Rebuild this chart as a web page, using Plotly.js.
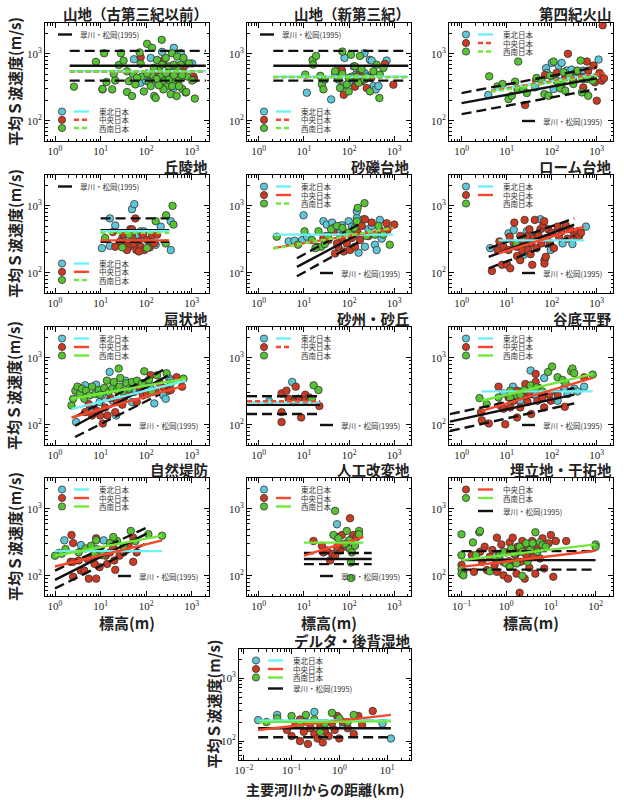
<!DOCTYPE html>
<html><head><meta charset="utf-8">
<script src="https://cdn.plot.ly/plotly-3.0.1.min.js"></script>
<style>html,body{margin:0;padding:0;background:#fff;}#chart{width:624px;height:800px;}</style>
</head><body><div id="chart"></div>
<script>
// ---------------- DATA (x: elevation m / distance km, y: mean S-wave velocity m/s) ----------------
const p1_T = [[54,830],[407,1230],[224,1070],[575,1020],[1020,720],[76,370],[126,370],[400,310],[126,870],[617,575],[98,400],[288,490]];
const p1_C = [[11,295],[76,890],[174,525],[245,810],[316,525],[676,650],[1100,457],[1120,417]];
const p1_W = [[2.6,324],[7.9,760],[12,1020],[11,300],[13.5,380],[18,295],[19.5,500],[21,400],[25,680],[28,1020],[32,790],[38,270],[42,390],[51,500],[58,350],[72,1050],[76,710],[81,460],[89,275],[105,1410],[115,380],[135,1230],[150,235],[162,220],[220,1620],[174,810],[190,575],[210,460],[245,390],[270,870],[290,330],[316,650],[350,460],[370,1020],[410,360],[450,550],[480,910],[525,410],[575,690],[620,300],[660,870],[740,265],[790,460],[870,720],[1020,400],[1170,215],[760,270],[132,490],[148,620],[170,420],[224,690],[275,510],[316,410],[372,330],[407,480],[480,620],[525,330],[617,480],[407,690],[240,295],[190,340],[105,510],[126,330],[38,550],[49,235],[63,440],[347,250],[468,235]];
const p1_ref = [[2.1,665],[2040,665]], p1_refU = [[2.1,1108],[2040,1108]], p1_refL = [[2.1,399],[2040,399]];
const p1_fitT = [[2.1,550],[2040,550]], p1_fitC = [[2.1,546],[2040,546]], p1_fitW = [[2.1,548],[2040,548]];

const p2_T = [[11.6,263],[40,209],[49,490],[56,550],[69,324],[79,870],[126,650],[141,490],[174,550],[219,1020],[224,513],[269,457],[288,813],[316,794],[347,331],[389,295],[447,331],[676,794],[148,389],[100,370]];
const p2_C = [[69,575],[76,245],[135,324],[166,490],[245,309],[309,437],[617,708],[955,347],[190,389]];
const p2_W = [[10.7,490],[15.5,810],[18.6,930],[16,690],[23,470],[25,350],[27,295],[29,415],[49,550],[58,415],[63,310],[71,1080],[71,500],[89,350],[98,275],[110,970],[115,457],[135,650],[148,457],[162,370],[174,930],[190,590],[219,415],[245,457],[290,275],[347,550],[407,690],[479,490],[468,219],[575,617],[98,437]];
const p2_ref = [[2.1,665],[2040,665]], p2_refU = [[2.1,1108],[2040,1108]], p2_refL = [[2.1,399],[2040,399]];
const p2_fitT = [[2.1,455],[2040,455]], p2_fitC = [[2.1,450],[2040,450]], p2_fitW = [[2.1,452],[2040,452]];

const p3_T = [[3.9,243],[75,610],[78,519],[100,733],[141,668],[166,733],[214,562],[275,582],[363,501],[501,562],[1096,822],[43,316],[166,316],[110,298],[501,422]];
const p3_C = [[25.7,172],[45,398],[71,484],[105,447],[129,519],[141,355],[229,1000],[302,398],[363,543],[468,447],[603,767],[646,562],[708,447],[851,668],[912,376],[1000,200],[1148,519],[1288,398],[1445,432],[1349,2660],[501,316],[200,447]];
const p3_W = [[4.1,462],[18,767],[6.2,327],[8.1,355],[11,211],[13,237],[15.4,385],[17.4,299],[23,305],[28,260],[46,437],[60,398],[69,251],[85,237],[110,767],[129,398],[155,305],[182,531],[200,282],[245,473],[302,355],[372,562],[437,794],[468,266],[603,422],[646,237],[813,398],[166,385],[91,473]];
const p3_ref = [[1,184],[1000,432]], p3_refU = [[1,260],[1000,631]], p3_refL = [[1,126],[1000,298]];
const p3_fitT = [[4.5,285],[1100,500]], p3_fitC = [[4.5,280],[1500,520]], p3_fitW = [[4.5,272],[1000,470]];

const p4_T = [[10.7,234],[16,253],[16,650],[21,510],[49,890],[55,1060],[63,350],[76,417],[162,262],[209,490],[347,219],[347,590],[30,331],[89,417]];
const p4_C = [[18.6,407],[21,245],[27,295],[32,372],[37,282],[42,245],[45,447],[49,355],[54,269],[58,650],[61,219],[69,295],[76,245],[85,372],[91,219],[105,309],[120,240],[135,363],[151,275],[174,372],[38,219],[49,447],[69,209]];
const p4_W = [[12.6,331],[30,240],[42,372],[105,234],[162,590],[269,275],[275,724],[398,525],[380,1000]];
const p4_ref = [[10,433],[320,433]], p4_refU = [[10,650],[320,650]], p4_refL = [[10,290],[320,290]];
const p4_fitT = [[10,420],[320,420]], p4_fitC = [[10,305],[320,305]], p4_fitW = [[10,395],[320,395]];

const p5_T = [[4.6,295],[6.2,302],[9.8,724],[9.1,309],[11.7,347],[27,590],[32,525],[42,562],[45,468],[58,447],[69,513],[98,590],[115,490],[148,660],[148,832],[162,200],[209,631],[224,245],[269,447],[316,501],[372,263],[407,219],[479,617],[525,324],[30,355],[162,372]];
const p5_C = [[35,309],[45,417],[49,195],[58,245],[69,331],[76,209],[89,275],[105,219],[115,331],[135,245],[148,417],[174,309],[190,501],[224,631],[269,355],[316,562],[479,437],[676,550],[708,437],[1000,525],[19.5,245],[27,331],[54,275]];
const p5_W = [[2.5,347],[7.4,263],[10.3,417],[15,309],[21,417],[24,245],[34,355],[40,447],[54,501],[71,468],[98,398],[132,468],[148,590],[219,1096],[155,933],[245,355],[372,372],[447,501],[575,372],[794,263],[29,269],[18,234]];
const p5_ref = [[7,123],[190,400]], p5_refU = [[7,165],[190,558]], p5_refL = [[7,89],[190,305]];
const p5_fitT = [[2.1,372],[950,372]], p5_fitC = [[2.1,234],[950,457]], p5_fitW = [[2.1,230],[950,470]];

const p6_T = [[4.3,234],[11,389],[14.4,437],[20,166],[28,417],[56,631],[95,219],[174,275],[288,269],[347,347],[575,490],[24,186]];
const p6_C = [[4.7,107],[6.3,219],[6.9,295],[7.9,132],[8.5,245],[10.2,132],[11,219],[11.7,347],[12,117],[14.4,275],[14.8,562],[16.5,245],[17,178],[20,355],[22,219],[24,275],[25,617],[29,355],[30,219],[32,447],[35,275],[37,132],[40,331],[42,617],[46,234],[49,372],[56,447],[59,275],[65,513],[68,590],[69,155],[69,138],[74,174],[79,331],[83,447],[91,275],[102,398],[112,234],[135,490],[145,347],[166,417],[204,513],[224,324],[257,447],[316,372],[372,417],[407,355],[447,398],[34,190],[51,355],[20,155]];
const p6_W = [[16.5,269]];
const p6_ref = [[4,173],[316,525]], p6_refU = [[4,233],[316,650]], p6_refL = [[4,117],[316,361]];
const p6_fitT = [[6.6,305],[530,305]], p6_fitC = [[6.6,196],[530,489]];

const p7_T = [[2.9,110],[4.6,389],[5.9,174],[8,398],[9.5,219],[10.7,275],[15.8,617],[18.6,229],[22,138],[35,457],[49,219],[54,309],[76,324],[126,347],[151,209],[240,275],[269,245],[316,501],[347,457],[89,389]];
const p7_C = [[4.6,155],[5.5,204],[6.5,138],[8.3,162],[9.1,288],[9.8,138],[11.2,105],[12.6,182],[14.2,138],[16.4,251],[21,155],[23,219],[30,200],[33,257],[42,295],[49,389],[62,219],[72,363],[85,275],[105,288],[126,550],[162,324],[200,417],[245,355],[316,324],[347,331],[468,513],[617,372]];
const p7_W = [[2.3,195],[2.5,245],[2.8,324],[3.1,372],[3.5,295],[3.9,347],[4.4,245],[4.8,324],[5.7,275],[6.5,372],[7.6,288],[9.1,331],[9.8,282],[12,355],[13.8,457],[15,309],[18,355],[19.5,437],[23,331],[26,372],[31,316],[37,417],[42,347],[49,437],[63,457],[81,417],[91,631],[115,468],[135,309],[174,550],[282,589],[347,417],[660,490],[25,692],[27,501]];
const p7_ref = [[2.75,97],[300,542]], p7_refU = [[2.75,132],[270,690]], p7_refL = [[2.75,66],[200,286]];
const p7_fitT = [[2.3,172],[740,457]], p7_fitC = [[2.3,129],[740,389]], p7_fitW = [[2.3,245],[740,490]];

const p8_T = [[1.7,224],[5.5,437],[6.5,229]];
const p8_C = [[3.2,295],[3.2,155],[3.2,110],[4.1,324],[4.6,245],[6.6,372],[7.6,245],[8.7,129],[10.7,282],[10.7,234],[13.2,257],[22,191],[5.9,219]];
const p8_W = [[16.4,389],[21,331],[15,240]];
const p8_ref = [[0.55,199],[23,199]], p8_refU = [[0.55,268],[23,268]], p8_refL = [[0.55,145],[20,145]];
const p8_fitT = [[0.55,218],[23,218]], p8_fitC = [[0.55,225],[23,225]];

const p9_T = [[8.5,295],[13.8,372],[34,646],[44,275],[68,501],[135,229],[190,355],[224,288],[316,347],[372,316],[525,372],[20,229]];
const p9_C = [[2.7,155],[2.8,117],[4,105],[6.6,372],[7.2,195],[8.5,174],[9.3,102],[11,257],[12,182],[14.4,229],[17,129],[20,182],[24,275],[26,407],[29,219],[31,309],[35,145],[44,437],[48,229],[52,355],[62,257],[68,182],[87,282],[95,229],[135,282],[195,186],[525,513],[44,575],[17,324]];
const p9_W = [[2.5,251],[3.6,204],[6.6,257],[12,324],[17,275],[24,331],[34,389],[46,363],[62,316],[83,617],[102,741],[135,513],[174,468],[204,417],[269,631],[288,692],[316,589],[813,562],[12,251],[20,282]];
const p9_ref = [[0.55,112],[316,282]], p9_refU = [[0.55,145],[316,355]], p9_refL = [[0.55,81],[316,209]];
const p9_fitT = [[2.8,316],[813,316]], p9_fitC = [[2.8,162],[813,501]], p9_fitW = [[2.8,229],[813,575]];

const p10_T = [[1.2,219],[1.6,339],[3.9,257],[8,251],[11.7,339],[17,309],[3.7,288]];
const p10_C = [[2.3,407],[2.5,309],[2.2,162],[2.5,162],[2.5,97],[3.3,170],[3.7,120],[4.4,120],[5.5,91],[6.8,200],[8,363],[8,91],[9.5,135],[13,200],[14,151],[16,224],[19,269],[20,170],[21,123],[26,200],[32,224],[41,282],[52,372],[52,162],[62,224],[7.4,151],[5.2,178]];
const p10_W = [[1,200],[1.4,214],[1.7,251],[3.3,224],[4.7,257],[6.2,282],[7.4,214],[8,339],[9.5,245],[11,204],[16,309],[23,331],[32,275],[46,468],[58,331],[112,417],[224,398],[19,380]];
const p10_ref = [[1,87],[103,427]], p10_refU = [[1,120],[103,525]], p10_refL = [[1,65],[103,309]];
const p10_fitT = [[1,234],[224,234]], p10_fitC = [[1,138],[224,339]], p10_fitW = [[1,200],[224,398]];

const p11_T = [[54,589]];
const p11_C = [[16.3,331],[25,282],[27,224],[38,170],[42,214],[54,380],[49,200],[63,240],[69,407],[76,282],[89,269],[105,724],[115,363],[126,407],[148,380],[32,240],[54,269]];
const p11_W = [[49,933],[45,407],[58,363],[89,468],[100,339],[105,251],[110,158],[110,93],[115,224],[135,282],[166,468],[166,417],[81,302]];
const p11_ref = [[10,179],[316,179]], p11_refU = [[10,220],[316,220]], p11_refL = [[10,150],[316,150]];
const p11_fitC = [[10,200],[207,380]], p11_fitW = [[10,313],[207,313]];

const p12_C = [[0.1,145],[0.11,115],[0.17,204],[0.19,115],[0.26,229],[0.29,162],[0.33,272],[0.37,122],[0.43,193],[0.49,243],[0.55,145],[0.62,372],[0.62,115],[0.69,204],[0.78,295],[0.85,162],[0.87,102],[1,224],[1.1,91],[1.2,316],[1.2,145],[1.4,372],[1.6,204],[1.7,108],[1.8,272],[2,56],[2.1,162],[2.3,331],[2.6,91],[2.8,204],[3,257],[3.3,132],[3.8,331],[4.1,193],[4.5,108],[5,272],[5.7,182],[6.5,363],[7.1,129],[8.9,306],[10,407],[11.3,97],[12.9,331],[22,331],[1.15,166],[1.35,243],[1.9,229]];
const p12_W = [[0.1,417],[0.1,204],[0.1,126],[0.1,108],[0.11,102],[0.18,316],[0.21,204],[0.25,447],[0.26,468],[0.43,117],[0.6,182],[0.71,204],[0.85,229],[1,153],[1.2,136],[1.3,257],[1.5,216],[1.7,153],[2,272],[2.3,229],[2.8,306],[3,162],[3.4,243],[3.9,306],[4.5,447],[5,229],[5.7,316],[6.5,288],[7.7,272],[2.3,100],[100,295],[100,272]];
const p12_ref = [[0.1,172],[100,172]], p12_refU = [[0.1,234],[100,234]], p12_refL = [[0.1,124],[100,124]];
const p12_fitC = [[0.1,136],[100,237]], p12_fitW = [[0.1,172],[100,295]];

const p13_T = [[0.02,215],[0.05,260],[0.3,290],[1.2,180],[12,110],[8,190]];
const p13_C = [[0.08,150],[0.1,120],[0.12,180],[0.15,100],[0.18,140],[0.2,200],[0.22,90],[0.25,160],[0.3,130],[0.35,110],[0.4,170],[0.5,140],[0.6,120],[0.7,190],[0.8,150],[1,110],[1.2,200],[1.5,160],[2,130],[2.5,250],[3,180],[5,300],[0.15,220],[0.45,95],[0.9,250]];
const p13_W = [[0.03,200],[0.05,230],[0.1,250],[0.15,180],[0.2,260],[0.3,220],[0.5,190],[0.7,280],[1,230],[1.5,200],[2,260],[0.4,140]];
const p13_ref = [[0.02,160],[12,160]], p13_refU = [[0.02,210],[12,210]], p13_refL = [[0.02,115],[12,115]];
const p13_fitT = [[0.02,212],[12,212]], p13_fitC = [[0.02,150],[12,260]], p13_fitW = [[0.02,200],[12,205]];

const titles = ['山地（古第三紀以前）','山地（新第三紀）','第四紀火山','丘陵地','砂礫台地','ローム台地','扇状地','砂州・砂丘','谷底平野','自然堤防','人工改変地','埋立地・干拓地','デルタ・後背湿地'];
const regionNames = ['東北日本','中央日本','西南日本'];
const refName = '翠川・松岡(1995)';
const yTitle = '平均Ｓ波速度(m/s)';
const xTitleElev = '標高(m)';
const xTitleDist = '主要河川からの距離(km)';
const xTickVals = [0.01,0.1,1,10,100,1000];
const xTickText = ['10<sup>−2</sup>','10<sup>−1</sup>','10<sup>0</sup>','10<sup>1</sup>','10<sup>2</sup>','10<sup>3</sup>'];
const yTickVals = [100,1000];
const yTickText = ['10<sup>2</sup>','10<sup>3</sup>'];

// ---------------- STYLE / LAYOUT ----------------
const W = 624, H = 800;
const SD = '5px,3px', LD = '10px,5px';
const MK = ['#5ec8d8','#cc3a22','#55c332'];
const LC = ['#6ef2f6','#f4482c','#72e83c'];
const FONT = 'Noto Sans CJK JP, Noto Sans, sans-serif';

const panels = [
 {c:0,r:0,pts:[p1_T,p1_C,p1_W],ref:[p1_ref,p1_refU,p1_refL],fit:[p1_fitT,p1_fitC,p1_fitW],dash:['solid',SD,SD],leg:'BL',refLeg:'TL'},
 {c:1,r:0,pts:[p2_T,p2_C,p2_W],ref:[p2_ref,p2_refU,p2_refL],fit:[p2_fitT,p2_fitC,p2_fitW],dash:['solid',SD,SD],leg:'BL',refLeg:'TL'},
 {c:2,r:0,pts:[p3_T,p3_C,p3_W],ref:[p3_ref,p3_refU,p3_refL],fit:[p3_fitT,p3_fitC,p3_fitW],dash:['solid',SD,SD],leg:'TL',refLeg:'BR'},
 {c:0,r:1,pts:[p4_T,p4_C,p4_W],ref:[p4_ref,p4_refU,p4_refL],fit:[p4_fitT,p4_fitC,p4_fitW],dash:['solid','solid',SD],leg:'BL',refLeg:'TL'},
 {c:1,r:1,pts:[p5_T,p5_C,p5_W],ref:[p5_ref,p5_refU,p5_refL],fit:[p5_fitT,p5_fitC,p5_fitW],dash:['solid','solid',SD],leg:'TL',refLeg:'BR'},
 {c:2,r:1,pts:[p6_T,p6_C,p6_W],ref:[p6_ref,p6_refU,p6_refL],fit:[p6_fitT,p6_fitC,null],dash:['solid','solid',null],leg:'TL',refLeg:'BR'},
 {c:0,r:2,pts:[p7_T,p7_C,p7_W],ref:[p7_ref,p7_refU,p7_refL],fit:[p7_fitT,p7_fitC,p7_fitW],dash:['solid','solid','solid'],leg:'TL',refLeg:'BR'},
 {c:1,r:2,pts:[p8_T,p8_C,p8_W],ref:[p8_ref,p8_refU,p8_refL],fit:[p8_fitT,p8_fitC,null],dash:['solid',SD,null],leg:'TL',refLeg:'BR'},
 {c:2,r:2,pts:[p9_T,p9_C,p9_W],ref:[p9_ref,p9_refU,p9_refL],fit:[p9_fitT,p9_fitC,p9_fitW],dash:['solid','solid','solid'],leg:'TL',refLeg:'BR'},
 {c:0,r:3,pts:[p10_T,p10_C,p10_W],ref:[p10_ref,p10_refU,p10_refL],fit:[p10_fitT,p10_fitC,p10_fitW],dash:['solid','solid','solid'],leg:'TL',refLeg:'BR'},
 {c:1,r:3,pts:[p11_T,p11_C,p11_W],ref:[p11_ref,p11_refU,p11_refL],fit:[null,p11_fitC,p11_fitW],dash:[null,'solid','solid'],leg:'TL',refLeg:'BR'},
 {c:2,r:3,pts:[null,p12_C,p12_W],ref:[p12_ref,p12_refU,p12_refL],fit:[null,p12_fitC,p12_fitW],dash:[null,'solid','solid'],leg:'TL2',refLeg:'IN'},
 {c:1,r:4,pts:[p13_T,p13_C,p13_W],ref:[p13_ref,p13_refU,p13_refL],fit:[p13_fitT,p13_fitC,p13_fitW],dash:['solid','solid','solid'],leg:'TL',refLeg:'IN4'}
];
const COLS = [45,247,449], COLW = 164, ROWS = [23,175,327,478,649], ROWH = 118;
const XR = [[-0.22,3.38],[-0.26,3.37],[-0.28,3.36]];
const XR12 = [-1.28,2.39], XR13 = [-2.1,1.5];
const P13_L = 239, P13_W = 172, P13_H = 111;
const YR = [1.70,3.46];

function minorVals(lo,hi){const v=[];for(let d=lo;d<hi;d++)for(let k=2;k<10;k++)v.push(k*Math.pow(10,d));return v;}
const xMinor = minorVals(-3,4), yMinor = minorVals(1,4);

const traces = [], shapes = [], annotations = [];
const layout = {width:W,height:H,margin:{l:0,r:0,t:0,b:0},showlegend:false,paper_bgcolor:'#fff',plot_bgcolor:'#fff',shapes,annotations};

function axisCommon(minor){
  return {type:'log',tickmode:'array',ticks:'inside',ticklen:5,tickwidth:1,tickcolor:'#000',showline:true,linecolor:'#000',linewidth:1,mirror:'allticks',showgrid:false,zeroline:false,
   tickfont:{family:'Liberation Serif, serif',size:11,color:'#222'},
   minor:{tickmode:'array',tickvals:minor,ticks:'inside',ticklen:2.5,tickwidth:1,tickcolor:'#000',showgrid:false}};
}

panels.forEach((p,i)=>{
  const n=i+1, xs=n===1?'':String(n);
  const xa='x'+xs, ya='y'+xs;
  const L = i===12?P13_L:COLS[p.c], T=ROWS[p.r];
  const PW = i===12?P13_W:COLW, PH = i===12?P13_H:ROWH;
  const xr = i===11?XR12:(i===12?XR13:XR[p.c]);
  layout['xaxis'+xs]=Object.assign(axisCommon(xMinor),{range:xr,domain:[L/W,(L+PW)/W],anchor:ya,tickvals:xTickVals,ticktext:xTickText});
  layout['yaxis'+xs]=Object.assign(axisCommon(yMinor),{range:YR,domain:[1-(T+PH)/H,1-T/H],anchor:xa,tickvals:yTickVals,ticktext:yTickText});
  p.pts.forEach((arr,k)=>{ if(!arr) return;
    traces.push({type:'scatter',mode:'markers',x:arr.map(d=>d[0]),y:arr.map(d=>d[1]),xaxis:xa,yaxis:ya,hoverinfo:'skip',
      marker:{size:7.5,color:MK[k],line:{color:'#333',width:0.8}}});
  });
  p.ref.forEach((arr,k)=>{
    traces.push({type:'scatter',mode:'lines',x:arr.map(d=>d[0]),y:arr.map(d=>d[1]),xaxis:xa,yaxis:ya,hoverinfo:'skip',
      line:{color:'#111',width:2.4,dash:k===0?'solid':LD}});
  });
  p.fit.forEach((arr,k)=>{ if(!arr) return;
    traces.push({type:'scatter',mode:'lines',x:arr.map(d=>d[0]),y:arr.map(d=>d[1]),xaxis:xa,yaxis:ya,hoverinfo:'skip',
      line:{color:LC[k],width:2.4,dash:p.dash[k]}});
  });
  annotations.push({xref:'paper',yref:'paper',x:(L+PW+1)/W,y:1-(T-9)/H,xanchor:'right',yanchor:'middle',showarrow:false,
    text:titles[i],font:{family:FONT,size:14.5,weight:'bold',color:'#222'}});
  const xd=xa+' domain', yd=ya+' domain';
  const fx=v=>v/PW, fy=v=>1-v/PH;
  const circle=(cx,cy,col)=>shapes.push({type:'circle',xref:xd,yref:yd,x0:fx(cx-3.6),x1:fx(cx+3.6),y0:fy(cy+3.6),y1:fy(cy-3.6),fillcolor:col,line:{color:'#333',width:0.8}});
  const seg=(x0,x1,y,col,dash)=>shapes.push({type:'line',xref:xd,yref:yd,x0:fx(x0),x1:fx(x1),y0:fy(y),y1:fy(y),line:{color:col,width:2.4,dash:dash}});
  const txt=(x,y,s)=>annotations.push({xref:xd,yref:yd,x:fx(x),y:fy(y),xanchor:'left',yanchor:'middle',showarrow:false,text:s,font:{family:FONT,size:7.5,color:'#333'}});
  let rowsY;
  if(p.leg==='BL') rowsY=[88.5,96.8,105]; else rowsY=[11.5,20,28.5];
  let ri=0;
  for(let k=0;k<3;k++){
    if(p.leg==='TL2' && k===0) continue;
    const y=rowsY[ri++];
    circle(17,y,MK[k]);
    if(p.dash[k]) seg(29,44,y,LC[k],p.dash[k]);
    txt(52,y,regionNames[k]);
  }
  if(p.refLeg==='TL'){ seg(13,27,11.5,'#111','solid'); txt(33,11.5,refName); }
  else if(p.refLeg==='BR'){ seg(73,86,98,'#111','solid'); txt(92,98,refName); }
  else if(p.refLeg==='IN'){ seg(29,44,33,'#111','solid'); txt(52,33,refName); }
  else if(p.refLeg==='IN4'){ seg(29,44,39.5,'#111','solid'); txt(52,39.5,refName); }
});

const TF = {family:FONT,size:15,weight:'bold',color:'#222'};
for(let r=0;r<4;r++){
  annotations.push({xref:'paper',yref:'paper',x:14/W,y:1-(ROWS[r]+ROWH/2)/H,textangle:-90,xanchor:'center',yanchor:'middle',showarrow:false,text:yTitle,font:TF});
}
annotations.push({xref:'paper',yref:'paper',x:213/W,y:1-(ROWS[4]+P13_H/2)/H,textangle:-90,xanchor:'center',yanchor:'middle',showarrow:false,text:yTitle,font:TF});
for(let c=0;c<3;c++){
  annotations.push({xref:'paper',yref:'paper',x:(COLS[c]+COLW/2)/W,y:1-622/H,xanchor:'center',yanchor:'middle',showarrow:false,text:xTitleElev,font:TF});
}
annotations.push({xref:'paper',yref:'paper',x:(P13_L+P13_W/2)/W,y:1-789/H,xanchor:'center',yanchor:'middle',showarrow:false,text:xTitleDist,font:{family:FONT,size:14,weight:'bold',color:'#222'}});

Plotly.newPlot('chart',traces,layout,{staticPlot:true,displayModeBar:false});
</script></body></html>
